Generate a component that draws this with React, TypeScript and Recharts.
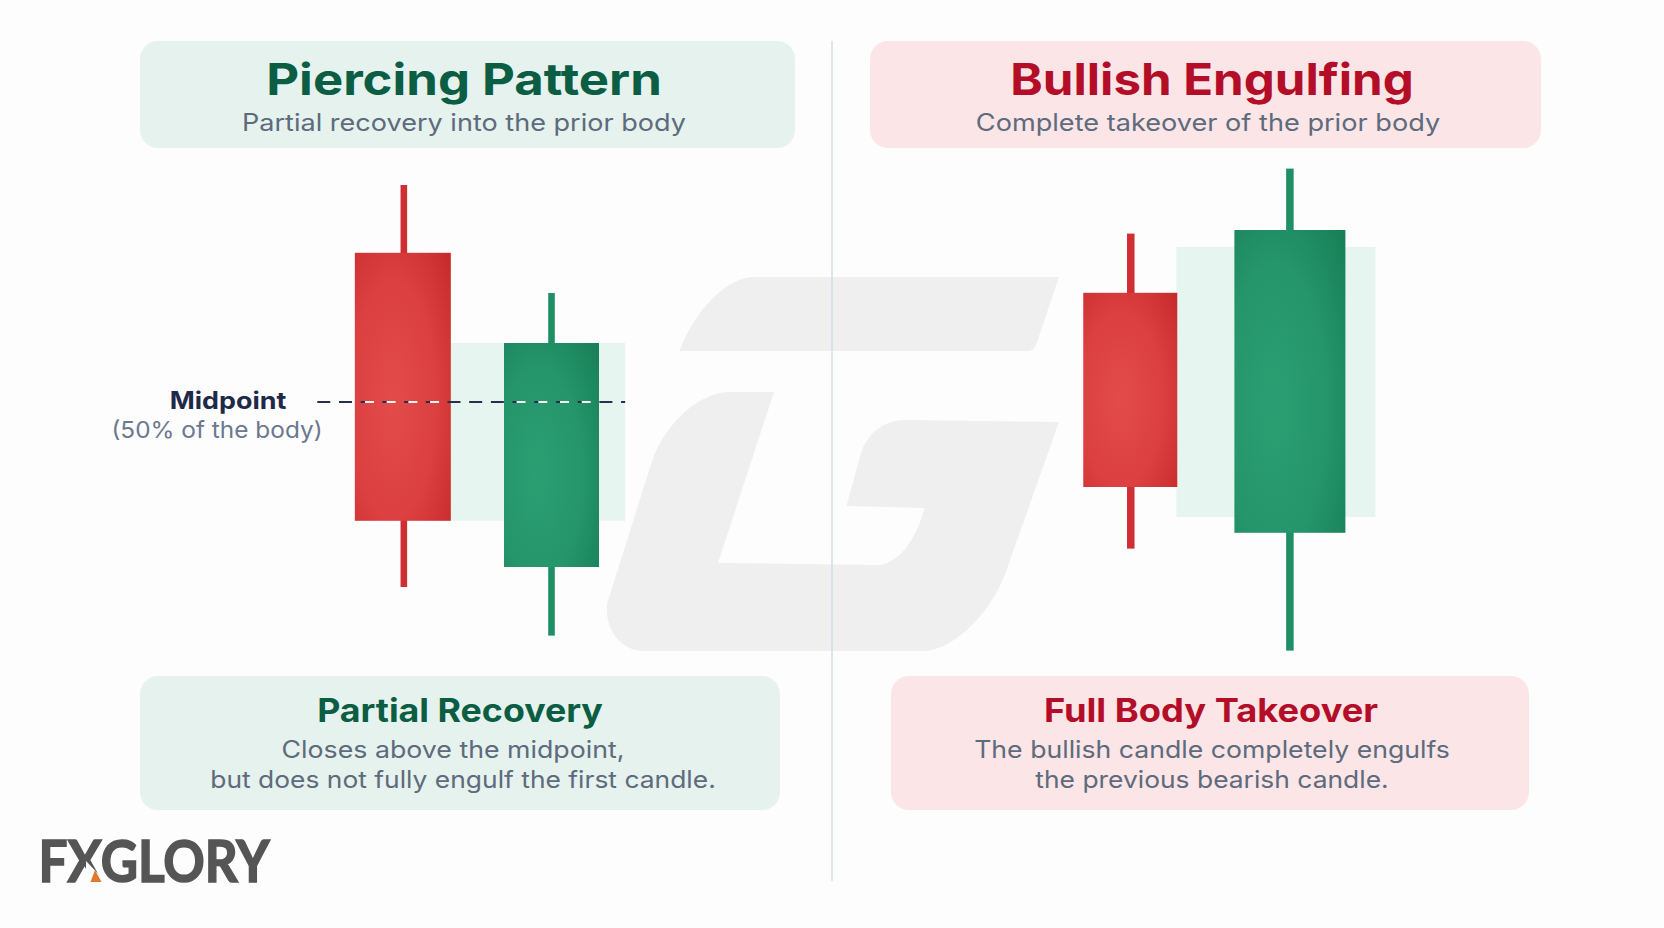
import React from "react";
import { Bar, ComposedChart, ReferenceArea, ReferenceLine, XAxis, YAxis } from "recharts";

// candle values, in price units
const piercingSlots = [1, 2];
const piercingHigh = [121.25, 94.25];
const piercingOpen = [104.3, 25.75];
const piercingClose = [37.3, 81.75];
const piercingLow = [20.75, 8.6];
const piercingZone = { x1: 1.32, x2: 2.5, y1: 37.3, y2: 81.75 };
const piercingMidpoint = { x1: 0.415, x2: 2.5, y: 67 };
// light dashes that only show over the candle bodies
const piercingMidpointGaps = [
  [0.738, 1.3],
  [1.765, 2.29],
];

const engulfingSlots = [1, 2.005];
const engulfingHigh = [109.1, 125.35];
const engulfingOpen = [94.3, 34.3];
const engulfingClose = [45.75, 110];
const engulfingLow = [30.35, 4.85];
const engulfingZone = { x1: 1.291, x2: 2.548, y1: 38.25, y2: 105.75 };

const toRows = (slots: number[], high: number[], open: number[], close: number[], low: number[]) =>
  slots.map((slot, i) => ({ slot, high: high[i], open: open[i], close: close[i], low: low[i] }));

const FONT = "Inter, sans-serif";
const GREEN_DARK = "#0b5d43";
const RED_DARK = "#b30d28";
const SLATE = "#5d6b7c";

const Candle = (props: any) => {
  const { x, y, width, height, payload, bodyWidth, bodyShift, wickWidth } = props;
  const up = payload.close > payload.open;
  const perUnit = Math.abs(height) / (payload.high - payload.low);
  const top = Math.min(y, y + height);
  const bodyTop = top + (payload.high - Math.max(payload.open, payload.close)) * perUnit;
  const bodyHeight = Math.abs(payload.close - payload.open) * perUnit;
  const cx = x + width / 2;
  const w = bodyWidth[up ? 1 : 0];
  return (
    <g>
      <rect
        x={cx - wickWidth / 2}
        y={top}
        width={wickWidth}
        height={Math.abs(height)}
        fill={up ? "#1f8f66" : "#cf2f33"}
      />
      <rect
        x={cx - w / 2 + bodyShift[up ? 1 : 0]}
        y={bodyTop}
        width={w}
        height={bodyHeight}
        fill={up ? "url(#bodyGreen)" : "url(#bodyRed)"}
      />
    </g>
  );
};

const PatternChart = ({ left, width, rows, zone, midpoint, midpointGaps, bodyWidth, bodyShift, wickWidth }: any) => (
  <div style={{ position: "absolute", left, top: 150 }}>
    <ComposedChart width={width} height={520} data={rows} margin={{ top: 0, right: 0, bottom: 0, left: 0 }}>
      <defs>
        <radialGradient id="bodyRed" cx="40%" cy="55%" r="80%">
          <stop offset="0%" stopColor="#e34b4b" />
          <stop offset="55%" stopColor="#dc4040" />
          <stop offset="100%" stopColor="#c72a2a" />
        </radialGradient>
        <radialGradient id="bodyGreen" cx="36%" cy="58%" r="85%">
          <stop offset="0%" stopColor="#2b9f73" />
          <stop offset="55%" stopColor="#25956c" />
          <stop offset="100%" stopColor="#187f57" />
        </radialGradient>
      </defs>
      <XAxis dataKey="slot" type="number" domain={[0, 3]} hide />
      <YAxis type="number" domain={[0, 130]} hide />
      <ReferenceArea
        x1={zone.x1}
        x2={zone.x2}
        y1={zone.y1}
        y2={zone.y2}
        fill="#e6f5ef"
        fillOpacity={1}
        stroke="none"
        ifOverflow="visible"
      />
      <Bar
        dataKey={(r: any) => [r.low, r.high]}
        barSize={10}
        isAnimationActive={false}
        shape={(p: any) => <Candle {...p} bodyWidth={bodyWidth} bodyShift={bodyShift} wickWidth={wickWidth} />}
      />
      {midpoint && (
        <ReferenceLine
          segment={[
            { x: midpoint.x1, y: midpoint.y },
            { x: midpoint.x2, y: midpoint.y },
          ]}
          stroke="#26304a"
          strokeWidth={2}
          strokeDasharray="13 8.7"
          ifOverflow="visible"
        />
      )}
      {midpoint &&
        midpointGaps.map(([a, b]: number[]) => (
          <ReferenceLine
            key={a}
            segment={[
              { x: a, y: midpoint.y },
              { x: b, y: midpoint.y },
            ]}
            stroke="#f6f2ee"
            strokeWidth={2}
            strokeDasharray="9 12.7"
            ifOverflow="visible"
          />
        ))}
    </ComposedChart>
  </div>
);

const Label = ({ x, y, size, weight = 400, color, stretch = 1, children }: any) => (
  <div
    style={{
      position: "absolute",
      left: x - 500,
      width: 1000,
      top: y - size,
      lineHeight: `${size * 2}px`,
      textAlign: "center",
      fontFamily: FONT,
      fontSize: size,
      fontWeight: weight,
      color,
      whiteSpace: "nowrap",
      transform: `scaleX(${stretch})`,
    }}
  >
    {children}
  </div>
);

const Panel = ({ x, y, w, h, fill }: any) => (
  <div style={{ position: "absolute", left: x, top: y, width: w, height: h, background: fill, borderRadius: 18 }} />
);

export default function App() {
  return (
    <div style={{ position: "absolute", left: 0, top: 0, width: 1664, height: 928, background: "#fdfdfd", overflow: "hidden" }}>
      {/* watermark and divider */}
      <svg width={1664} height={928} style={{ position: "absolute", left: 0, top: 0 }}>
        <path
          fill="#efefef"
          d="M679.5 351 C695 310 725 280 751 277 L1059 277 L1036 345 Q1034 351 1026 351 Z
             M774 392 L727 392 C695 395 665 425 652 461 L607 604 C605 630 620 650 643 651 L924 651
             C955 650 995 610 1009 563 L1059 422 L905 420 C885 420 868 432 861 453 L846.5 506 L924.4 508
             C915 545 895 565 877 565 L718 563 Z"
        />
        <line x1={832} y1={41} x2={832} y2={881} stroke="#cfdeea" strokeWidth={1.5} />
      </svg>

      <Panel x={140} y={41} w={655} h={107} fill="#e6f2ed" />
      <Panel x={870} y={41} w={671} h={107} fill="#fbe5e7" />
      <Panel x={140} y={676} w={640} h={134} fill="#e6f2ed" />
      <Panel x={891} y={676} w={638} h={134} fill="#fbe5e7" />

      <PatternChart
        left={256}
        width={443}
        rows={toRows(piercingSlots, piercingHigh, piercingOpen, piercingClose, piercingLow)}
        zone={piercingZone}
        midpoint={piercingMidpoint}
        midpointGaps={piercingMidpointGaps}
        bodyWidth={[96, 95]}
        bodyShift={[-1, 0]}
        wickWidth={6.6}
      />
      <PatternChart
        left={972}
        width={475}
        rows={toRows(engulfingSlots, engulfingHigh, engulfingOpen, engulfingClose, engulfingLow)}
        zone={engulfingZone}
        bodyWidth={[94, 111]}
        bodyShift={[-0.5, 0]}
        wickWidth={7.5}
      />

      <Label x={464} y={79} size={44} weight={700} color={GREEN_DARK} stretch={1.155}>Piercing Pattern</Label>
      <Label x={464} y={123} size={24} color={SLATE} stretch={1.127}>Partial recovery into the prior body</Label>
      <Label x={1212} y={79} size={44} weight={700} color={RED_DARK} stretch={1.118}>Bullish Engulfing</Label>
      <Label x={1208} y={123} size={24} color={SLATE} stretch={1.13}>Complete takeover of the prior body</Label>

      <Label x={228} y={401} size={24} weight={700} color="#1f2a48" stretch={1.12}>Midpoint</Label>
      <Label x={217} y={430} size={23} color="#6b7890" stretch={1.06}>(50% of the body)</Label>

      <Label x={460} y={711} size={32} weight={700} color={GREEN_DARK} stretch={1.117}>Partial Recovery</Label>
      <Label x={453} y={750} size={24} color={SLATE} stretch={1.114}>Closes above the midpoint,</Label>
      <Label x={463} y={780} size={24} color={SLATE} stretch={1.1}>but does not fully engulf the first candle.</Label>
      <Label x={1211} y={711} size={32} weight={700} color={RED_DARK} stretch={1.133}>Full Body Takeover</Label>
      <Label x={1212} y={750} size={24} color={SLATE} stretch={1.11}>The bullish candle completely engulfs</Label>
      <Label x={1212} y={780} size={24} color={SLATE} stretch={1.1}>the previous bearish candle.</Label>

      {/* logo */}
      <svg width={300} height={110} style={{ position: "absolute", left: 30, top: 800 }}>
        <text
          x={8.5}
          y={82}
          fontFamily="Lato, sans-serif"
          fontWeight={700}
          fontSize={58}
          fill="#555555"
          stroke="#555555"
          strokeWidth={1.6}
          textLength={231}
          lengthAdjust="spacingAndGlyphs"
        >
          FXGLORY
        </text>
        <path d="M56 61 L78 84 L56 84 Z" fill="#fdfdfd" />
        <path d="M60.5 82 L71.5 82 L65 70 Z" fill="#e2772e" />
      </svg>
    </div>
  );
}
